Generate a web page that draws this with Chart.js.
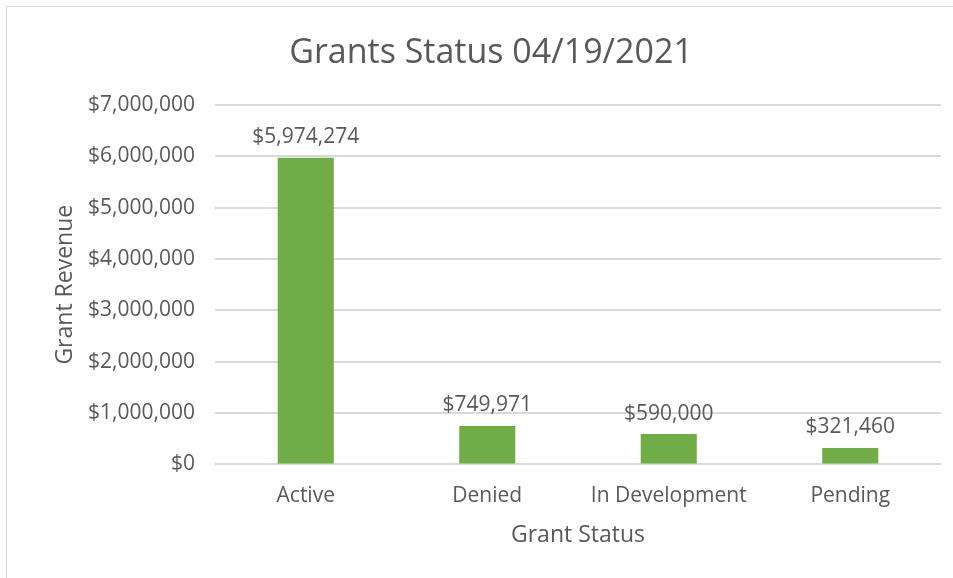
<!DOCTYPE html>
<html>
<head>
<meta charset="utf-8">
<script src="https://cdn.jsdelivr.net/npm/chart.js@4.4.1/dist/chart.umd.min.js"></script>
<style>
  html, body { margin: 0; padding: 0; background: #fff; overflow: hidden; }
  #wrap { position: relative; width: 953px; height: 578px; }
  #frame { position: absolute; left: 6px; top: 6px; width: 980px; height: 600px;
           border: 1px solid #d9d9d9; box-sizing: border-box; }
  #chart { position: absolute; left: 0; top: 0; }
</style>
</head>
<body>
<div id="wrap">
  <div id="frame"></div>
  <canvas id="chart" width="953" height="578"></canvas>
</div>
<script>
// Grant revenue by status, Excel-style column chart.
const categories = ["Active", "Denied", "In Development", "Pending"];
const revenue = [5974274, 749971, 590000, 321460];
const yTicks = [0, 1000000, 2000000, 3000000, 4000000, 5000000, 6000000, 7000000];

const TEXT = "#595959";
const GRID = "#d9d9d9";
const BAR = "#70ad47";
const FONT = "'Open Sans', sans-serif";

function fmtUsd(v) {
  return "$" + Math.round(v).toLocaleString("en-US");
}

// draws the value above each bar
const barLabels = {
  id: "barLabels",
  afterDatasetsDraw(chart) {
    const { ctx } = chart;
    const meta = chart.getDatasetMeta(0);
    ctx.save();
    ctx.fillStyle = TEXT;
    ctx.font = "21px " + FONT;
    ctx.textAlign = "center";
    ctx.textBaseline = "bottom";
    meta.data.forEach((bar, i) => {
      ctx.fillText(fmtUsd(revenue[i]), bar.x, bar.y - 10);
    });
    ctx.restore();
  },
};

new Chart(document.getElementById("chart"), {
  type: "bar",
  data: {
    labels: categories,
    datasets: [{
      data: revenue,
      backgroundColor: BAR,
      borderWidth: 0,
      categoryPercentage: 1,
      barPercentage: 0.309,
    }],
  },
  options: {
    responsive: false,
    animation: false,
    layout: { padding: { top: 0, right: 12, bottom: 34.3, left: 41 } },
    plugins: {
      legend: { display: false },
      tooltip: { enabled: false },
      title: {
        display: true,
        text: "Grants Status 04/19/2021",
        color: TEXT,
        font: { family: FONT, size: 34, weight: "normal", lineHeight: 1.2 },
        padding: { top: 33, bottom: 31.2 },
      },
    },
    scales: {
      x: {
        grid: { display: false, drawTicks: false },
        border: { display: false },
        ticks: {
          color: TEXT,
          padding: 19,
          font: { family: FONT, size: 21, lineHeight: 1.2 },
          maxRotation: 0,
        },
        title: {
          display: true,
          text: "Grant Status",
          color: TEXT,
          font: { family: FONT, size: 23, lineHeight: 0.7 },
          padding: { top: 0, bottom: 0 },
        },
      },
      y: {
        min: 0,
        max: 7000000,
        afterFit(scale) { scale.width = 174; },
        afterBuildTicks(scale) { scale.ticks = yTicks.map(v => ({ value: v })); },
        grid: { color: GRID, lineWidth: 2, drawTicks: false },
        border: { display: false },
        ticks: {
          color: TEXT,
          padding: 20,
          font: { family: FONT, size: 21, lineHeight: 1.2 },
          callback: (v) => fmtUsd(v),
        },
        title: {
          display: true,
          text: "Grant Revenue",
          color: TEXT,
          font: { family: FONT, size: 23, lineHeight: 1.2 },
          padding: { top: 11, bottom: 0 },
        },
      },
    },
  },
  plugins: [barLabels],
});
</script>
</body>
</html>
